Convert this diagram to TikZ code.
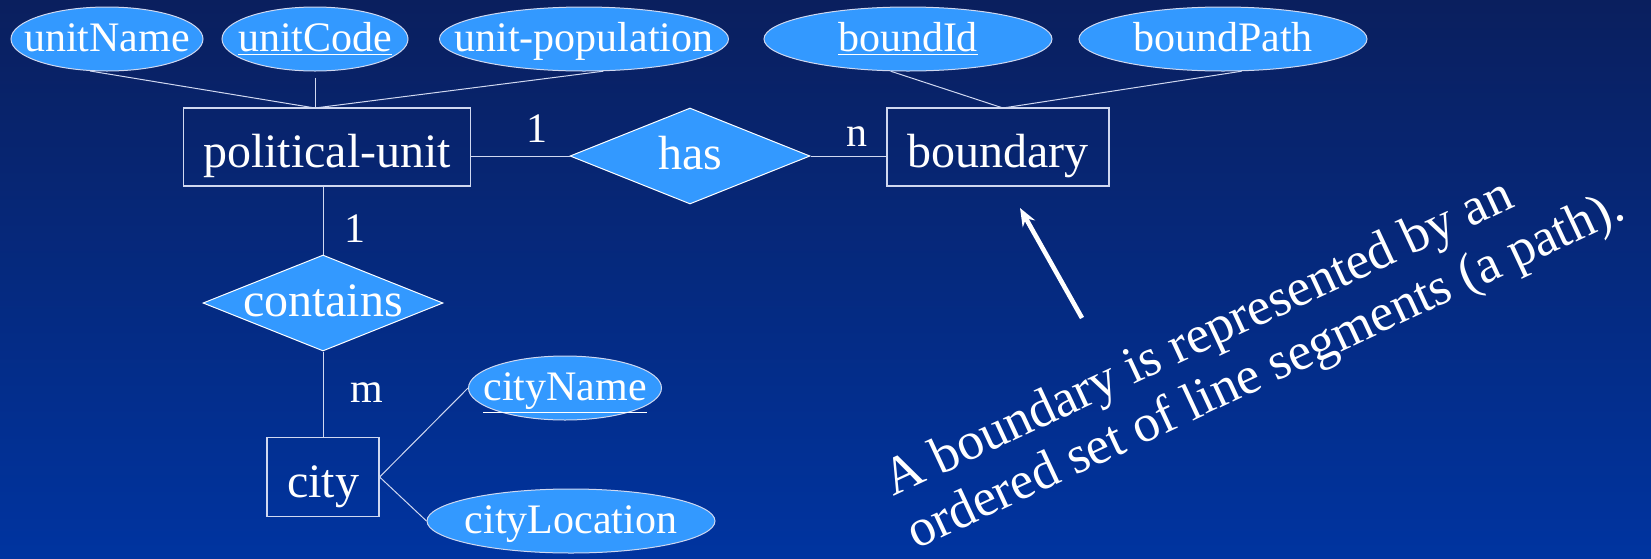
\documentclass[tikz,border=0pt]{standalone}
\usepackage{fontspec}
\setmainfont{Liberation Serif}
\usetikzlibrary{shapes.geometric,arrows.meta}
\definecolor{bgtop}{HTML}{0A1F5E}
\definecolor{bgbot}{HTML}{0034A0}
\definecolor{attrfill}{HTML}{3399FF}
\definecolor{edge}{HTML}{D0D8F0}
\newcommand\zbox[1]{\makebox[0pt]{#1}}
\tikzset{
  attr/.style={ellipse, fill=attrfill, draw=edge, line width=0.5pt, inner sep=0pt,
    minimum height=32pt, text height=12.5pt, text depth=0pt, text=white,
    font=\fontsize{21}{24}\selectfont},
  entity/.style={rectangle, draw=edge, line width=0.6pt, inner sep=0pt,
    minimum height=39pt, text height=20.5pt, text depth=0pt, text=white,
    font=\fontsize{24}{28}\selectfont},
  rel/.style={diamond, aspect=2.5, fill=attrfill, draw=white, line width=0.5pt, inner sep=0pt,
    minimum width=120pt, minimum height=48pt, text height=13.5pt, text depth=0pt, text=white,
    font=\fontsize{24}{28}\selectfont},
  conn/.style={draw=edge, line width=0.5pt},
  card/.style={text=white, inner sep=0pt, anchor=base, font=\fontsize{21}{24}\selectfont},
  note/.style={text=white, inner sep=0pt, anchor=base west, rotate=25, font=\fontsize{26.5}{30}\selectfont},
}
\begin{document}
\begin{tikzpicture}[x=0.5pt, y=-0.5pt]
\shade[top color=bgtop, bottom color=bgbot] (0,0) rectangle (1651,558);
\useasboundingbox (0,0) rectangle (1651,558);

% attributes
\node[attr, minimum width=96pt] (unitName) at (107,39) {\zbox{unitName}};
\node[attr, minimum width=93pt] (unitCode) at (315,39) {\zbox{\underline{unitCode}}};
\node[attr, minimum width=144.5pt] (unitpop) at (584,39) {\zbox{unit-population}};
\node[attr, minimum width=144pt] (boundId) at (908,39) {\zbox{\underline{boundId}}};
\node[attr, minimum width=144pt] (boundPath) at (1223,39) {\zbox{boundPath}};
\node[attr, minimum width=96.5pt] (cityName) at (565,388) {\zbox{\underline{cityName}}};
\node[attr, minimum width=144pt] (cityLocation) at (571,521) {\zbox{cityLocation}};

% entities
\node[entity, minimum width=143.5pt] (polunit) at (327,147) {political-unit};
\node[entity, minimum width=111pt] (boundary) at (998,147) {boundary};
\node[entity, minimum width=56pt, minimum height=39.5pt] (city) at (323,477) {city};

% relationships
\node[rel] (has) at (690,156) {\zbox{has}};
\node[rel] (contains) at (323,303) {\zbox{contains}};

% junction points
\coordinate (putop) at (315,108);
\coordinate (btop) at (1003,108);

% attribute connectors
\draw[conn] (unitName.-118) -- (putop);
\draw[conn] ([yshift=-3pt]unitCode.south) -- (putop);
\draw[conn] (unitpop.-59) -- (putop);
\draw[conn] (boundId.-118) -- (btop);
\draw[conn] (boundPath.-60.5) -- (btop);
\draw[conn] (city.east) -- (cityName.west);
\draw[conn] (city.east) -- (cityLocation.west);

% relationship connectors
\draw[conn] (has.west) -- (polunit.east |- has.west);
\draw[conn] (has.east) -- (boundary.west |- has.east);
\draw[conn] (contains.north) -- (contains.north |- polunit.south);
\draw[conn] (contains.south) -- (city.north);

% cardinalities
\node[card] (c1) at (537,142) {1};
\node[card] (cn) at (857,146) {n};
\node[card] (c2) at (355,242) {1};
\node[card] (cm) at (367,402) {m};

% note arrow
\coordinate (arrtail) at (1082,318);
\coordinate (arrtip) at (1020,208);
\draw[white, line width=2.3pt, -{Stealth[length=9pt, width=7pt]}] (arrtail) -- (arrtip);

% note text
\node[note] (note1) at (893,497) {A boundary is represented by an};
\node[note] (note2) at (916,550) {ordered set of line segments (a path).};
\end{tikzpicture}
\end{document}
